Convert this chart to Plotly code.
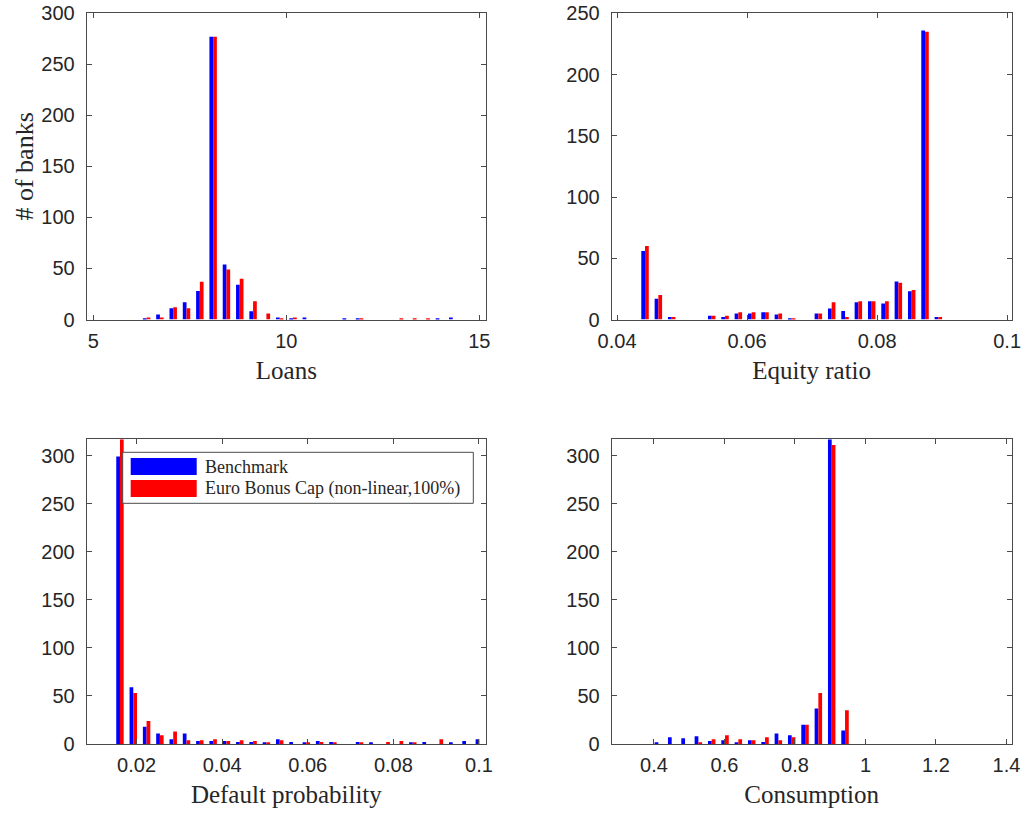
import plotly.graph_objects as go
from plotly.subplots import make_subplots

# ---------------- data ----------------
series_names = ["Benchmark", "Euro Bonus Cap (non-linear,100%)"]

# histogram bins (first bin centre, bin width), 30 bins each
loans_bins = (5.0, 10 / 29)
equity_bins = (0.0402, 0.002051)
default_bins = (0.0099, 0.00311)
consumption_bins = (0.299, 0.03783)
n_bins = 30

loans_benchmark = [0, 0, 0, 0, 1, 5, 11, 17, 28, 277, 54, 34, 8, 0, 2,
                   1, 2, 0, 0, 1, 1, 0, 0, 0, 0, 0, 1, 2, 0, 0]
loans_cap = [0, 0, 0, 0, 2, 2, 12, 11, 37, 277, 49, 40, 18, 6, 1,
             2, 0, 0, 0, 0, 1, 0, 0, 1, 1, 1, 0, 0, 0, 0]

equity_benchmark = [0, 0, 56, 17, 2, 0, 0, 3, 2, 5, 5, 6, 4, 1, 0,
                    5, 9, 7, 14, 15, 13, 31, 23, 236, 2, 0, 0, 0, 0, 0]
equity_cap = [0, 0, 60, 20, 2, 0, 0, 3, 3, 6, 6, 6, 5, 1, 0,
              5, 14, 2, 15, 15, 15, 30, 24, 235, 2, 0, 0, 0, 0, 0]

default_benchmark = [0, 0, 299, 59, 18, 11, 5, 11, 3, 3, 3, 2, 2, 1, 5,
                     2, 1, 3, 2, 0, 2, 1, 0, 0, 1, 2, 0, 1, 3, 5]
default_cap = [0, 0, 317, 53, 24, 9, 13, 4, 4, 5, 3, 4, 3, 1, 4,
               0, 1, 2, 1, 0, 1, 0, 2, 3, 1, 0, 5, 0, 0, 0]

consumption_benchmark = [0, 0, 0, 1, 7, 6, 8, 3, 4, 1, 4, 2, 11, 9, 20,
                         37, 317, 14, 0, 0, 0, 0, 0, 0, 0, 0, 0, 0, 0, 0]
consumption_cap = [0, 0, 0, 0, 0, 0, 1, 5, 9, 5, 4, 7, 4, 7, 20,
                   53, 311, 35, 0, 0, 0, 0, 0, 0, 0, 0, 0, 0, 0, 0]

loans_xticks = [5, 10, 15]
equity_xticks = [0.04, 0.06, 0.08, 0.1]
equity_xlabels = ["0.04", "0.06", "0.08", "0.1"]
default_xticks = [0.02, 0.04, 0.06, 0.08, 0.1]
default_xlabels = ["0.02", "0.04", "0.06", "0.08", "0.1"]
consumption_xticks = [0.4, 0.6, 0.8, 1.0, 1.2, 1.4]
consumption_xlabels = ["0.4", "0.6", "0.8", "1", "1.2", "1.4"]

x_titles = ["Loans", "Equity ratio", "Default probability", "Consumption"]
y_title = "# of banks"

# ---------------- figure ----------------
BLUE = "#0000FF"
RED = "#FF0000"
AX = "#4a4a4a"
TXT = "#262626"
SANS = "Liberation Sans, Arial, sans-serif"
SERIF = "Liberation Serif, Times New Roman, serif"


def centers(bins):
    c0, w = bins
    return [c0 + i * w for i in range(n_bins)]


def xrange(bins):
    c0, w = bins
    return [c0 - w / 2, c0 + (n_bins - 1) * w + w / 2]


panels = [
    (loans_bins, loans_benchmark, loans_cap, loans_xticks, [str(t) for t in loans_xticks], [0, 300]),
    (equity_bins, equity_benchmark, equity_cap, equity_xticks, equity_xlabels, [0, 250]),
    (default_bins, default_benchmark, default_cap, default_xticks, default_xlabels, [0, 317]),
    (consumption_bins, consumption_benchmark, consumption_cap, consumption_xticks, consumption_xlabels, [0, 317]),
]

fig = make_subplots(rows=2, cols=2)

W, H = 1026, 815
xdom = [[86.7 / W, 486 / W], [611.7 / W, 1011.7 / W]]
ydom = [[1 - 319.5 / H, 1 - 13.3 / H], [1 - 744 / H, 1 - 439.3 / H]]

for k, (bins, b, c, xt, xl, yr) in enumerate(panels):
    r, col = k // 2 + 1, k % 2 + 1
    xs = centers(bins)
    fig.add_trace(go.Bar(x=xs, y=b, name=series_names[0], marker=dict(color=BLUE, line=dict(width=0)),
                         showlegend=False), row=r, col=col)
    fig.add_trace(go.Bar(x=xs, y=c, name=series_names[1], marker=dict(color=RED, line=dict(width=0)),
                         showlegend=False), row=r, col=col)
    xa = "xaxis" if k == 0 else f"xaxis{k+1}"
    ya = "yaxis" if k == 0 else f"yaxis{k+1}"
    fig.layout[xa].update(
        domain=xdom[col - 1], range=xrange(bins), tickvals=xt, ticktext=xl, automargin=False,
        ticks="inside", ticklen=5, tickcolor=AX, showline=True, linecolor=AX, linewidth=1,
        mirror="ticks", showgrid=False, zeroline=False, ticklabelstandoff=3,
        tickfont=dict(family=SANS, size=20, color=TXT),
        title=dict(text=x_titles[k], font=dict(family=SERIF, size=25, color=TXT), standoff=10),
    )
    fig.layout[ya].update(
        domain=ydom[r - 1], range=yr, tickvals=list(range(0, yr[1] + 1, 50)), automargin=False,
        ticks="inside", ticklen=5, tickcolor=AX, showline=True, linecolor=AX, linewidth=1,
        mirror="ticks", showgrid=False, zeroline=False, ticklabelstandoff=7,
        tickfont=dict(family=SANS, size=20, color=TXT),
    )

fig.layout.yaxis.title = dict(text=y_title, font=dict(family=SERIF, size=26, color=TXT), standoff=0)

# legend box inside the "Default probability" panel
lx0, lx1 = 122.7 / W, 473.3 / W
ly0, ly1 = 1 - 503.3 / H, 1 - 452.3 / H
fig.add_shape(type="rect", xref="paper", yref="paper", x0=lx0, x1=lx1, y0=ly0, y1=ly1,
              line=dict(color=AX, width=1), fillcolor="white")
sw = [(458, 475, BLUE), (480, 497, RED)]
for (t, btm, colr), name in zip(sw, series_names):
    fig.add_shape(type="rect", xref="paper", yref="paper", x0=130.7 / W, x1=196.7 / W,
                  y0=1 - btm / H, y1=1 - t / H, line=dict(width=0), fillcolor=colr)
    fig.add_annotation(xref="paper", yref="paper", x=202.7 / W, y=1 - (t + btm) / 2 / H,
                       text=name, showarrow=False, xanchor="left", yanchor="middle",
                       font=dict(family=SERIF, size=18, color=TXT))

fig.update_layout(
    width=W, height=H, margin=dict(l=0, r=0, t=0, b=0, autoexpand=False),
    paper_bgcolor="white", plot_bgcolor="white",
    barmode="group", bargap=0.44, bargroupgap=0.0,
)

fig.write_html("out.html")
